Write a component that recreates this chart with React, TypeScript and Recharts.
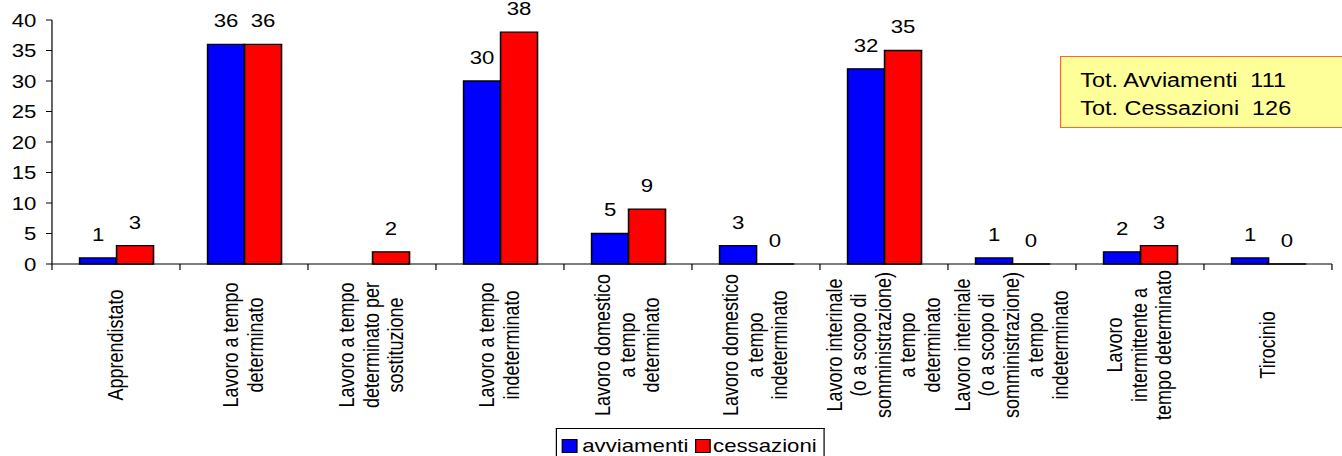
import { BarChart, Bar, XAxis, YAxis, Legend, LabelList } from "recharts";

const categories = [
  "Apprendistato",
  "Lavoro a tempo\ndeterminato",
  "Lavoro a tempo\ndeterminato per\nsostituzione",
  "Lavoro a tempo\nindeterminato",
  "Lavoro domestico\na tempo\ndeterminato",
  "Lavoro domestico\na tempo\nindeterminato",
  "Lavoro interinale\n(o a scopo di\nsomministrazione)\na tempo\ndeterminato",
  "Lavoro interinale\n(o a scopo di\nsomministrazione)\na tempo\nindeterminato",
  "Lavoro\nintermittente a\ntempo determinato",
  "Tirocinio",
];
const avviamenti = [1, 36, null, 30, 5, 3, 32, 1, 2, 1];
const cessazioni = [3, 36, 2, 38, 9, 0, 35, 0, 3, 0];
const yTicks = [0, 5, 10, 15, 20, 25, 30, 35, 40];

const data = categories.map((name, i) => ({
  name,
  avviamenti: avviamenti[i],
  cessazioni: cessazioni[i],
}));

const sum = (arr: (number | null)[]) => arr.reduce((a: number, b) => a + (b ?? 0), 0);

// the source picture is stretched sideways, so the chart is drawn narrower and scaled
const STRETCH = 1.2004;
const W = 1118;
const H = 456;
const Y_W = 43.3;
const RIGHT = 8.4;
const BAND = (W - Y_W - RIGHT) / categories.length;
const FONT = "Arial, 'Liberation Sans', sans-serif";

// zero values still get a label, so give them a hairline bar
const zeroPoint = (value: any) => (value === 0 ? 0.01 : 0);

const CategoryTick = (props: any) => {
  const { x, y, payload, index } = props;
  const lines = String(payload.value).split("\n");
  const half = BAND / 2;
  return (
    <g>
      <line x1={x - half} x2={x - half} y1={y} y2={y + 6} stroke="#000" />
      {index === categories.length - 1 && (
        <line x1={x + half} x2={x + half} y1={y} y2={y + 6} stroke="#000" />
      )}
      <g transform={`translate(${x},${y + 81}) rotate(-90)`}>
        <text textAnchor="middle" fontSize={18} fontFamily={FONT} fill="#000">
          {lines.map((l, i) => (
            <tspan key={i} x={0} y={(i - (lines.length - 1) / 2) * 20.4 + 5.6}>
              {l}
            </tspan>
          ))}
        </text>
      </g>
    </g>
  );
};

const LegendBox = () => {
  const text = { position: "absolute" as const, top: 8, fontSize: 18.5, lineHeight: 1, fontFamily: FONT, color: "#000" };
  const sq = { position: "absolute" as const, top: 10, width: 10.5, height: 12, border: "1px solid #000" };
  return (
    <div
      style={{
        position: "relative",
        width: 224,
        height: 28,
        boxSizing: "border-box",
        border: "1px solid #000",
        borderBottom: "none",
        background: "#fff",
      }}
    >
      <span style={{ ...sq, left: 4.5, background: "#0000FF" }} />
      <span style={{ ...text, left: 21.5 }}>avviamenti</span>
      <span style={{ ...sq, left: 115.5, background: "#FF0000" }} />
      <span style={{ ...text, left: 130.5 }}>cessazioni</span>
    </div>
  );
};

export default function App() {
  return (
    <div
      style={{
        position: "absolute",
        left: 0,
        top: 0,
        width: W,
        height: H,
        transform: `scaleX(${STRETCH})`,
        transformOrigin: "0 0",
        background: "#fff",
      }}
    >
      <BarChart
        width={W}
        height={H}
        data={data}
        margin={{ top: 20, right: RIGHT, left: 0, bottom: 0 }}
        barGap={0}
        barSize={30.8}
      >
        <XAxis
          dataKey="name"
          interval={0}
          height={164}
          tickSize={0}
          tickMargin={0}
          tickLine={false}
          axisLine={{ stroke: "#000" }}
          tick={<CategoryTick />}
        />
        <YAxis
          width={Y_W}
          domain={[0, 40]}
          ticks={yTicks}
          interval={0}
          tickSize={5}
          tickMargin={8}
          axisLine={{ stroke: "#000" }}
          tickLine={{ stroke: "#000" }}
          tick={{ fill: "#000", fontSize: 18.5, fontFamily: FONT }}
        />
        <Legend
          verticalAlign="bottom"
          content={<LegendBox />}
          wrapperStyle={{ left: 462.5, width: 224, top: 428, bottom: "auto", height: 28 }}
        />
        <Bar
          dataKey="avviamenti"
          fill="#0000FF"
          stroke="#000"
          strokeWidth={1.3}
          minPointSize={zeroPoint}
          isAnimationActive={false}
        >
          <LabelList dataKey="avviamenti" position="top" offset={17} fill="#000" fontSize={18.5} fontFamily={FONT} />
        </Bar>
        <Bar
          dataKey="cessazioni"
          fill="#FF0000"
          stroke="#000"
          strokeWidth={1.3}
          minPointSize={zeroPoint}
          isAnimationActive={false}
        >
          <LabelList dataKey="cessazioni" position="top" offset={17} fill="#000" fontSize={18.5} fontFamily={FONT} />
        </Bar>
      </BarChart>
      <div
        style={{
          position: "absolute",
          left: 882.5,
          top: 56,
          width: W - 882.5,
          height: 72,
          boxSizing: "border-box",
          background: "#FFFF99",
          border: "1px solid #FF6633",
          borderRight: "none",
          paddingLeft: 16.5,
          paddingTop: 9,
          fontFamily: FONT,
          fontSize: 19.5,
          lineHeight: "28px",
          color: "#000",
          whiteSpace: "pre",
        }}
      >
        <div>{`Tot. Avviamenti  ${sum(avviamenti)}`}</div>
        <div>{`Tot. Cessazioni  ${sum(cessazioni)}`}</div>
      </div>
    </div>
  );
}
